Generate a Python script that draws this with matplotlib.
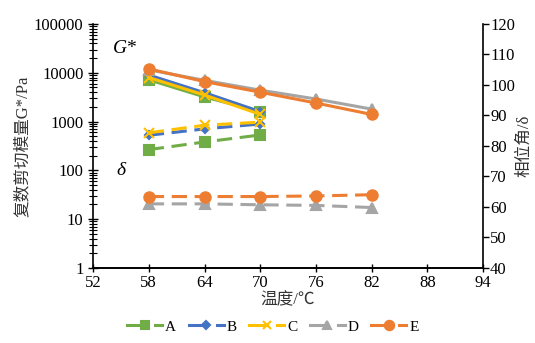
import matplotlib
matplotlib.use("Agg")
import matplotlib.pyplot as plt
from matplotlib.lines import Line2D
from matplotlib.legend_handler import HandlerBase
from matplotlib.ticker import FixedLocator, LogLocator, NullFormatter

# ---- data ----
temps_short = [58, 64, 70]
temps_long = [58, 64, 70, 76, 82]
series = ["A", "B", "C", "D", "E"]

gstar_A = [7200, 3200, 1600]
gstar_B = [9000, 3900, 1600]
gstar_C = [8000, 3500, 1400]
gstar_D = [11500, 7000, 4400, 2900, 1800]
gstar_E = [12000, 6600, 4000, 2400, 1400]

delta_A = [78.8, 81.3, 83.6]
delta_B = [83.5, 85.6, 87.2]
delta_C = [84.3, 86.8, 87.8]
delta_D = [61.0, 61.0, 60.7, 60.5, 59.8]
delta_E = [63.4, 63.4, 63.4, 63.6, 64.0]

x_ticks = [52, 58, 64, 70, 76, 82, 88, 94]
y_left_ticks = [1, 10, 100, 1000, 10000, 100000]
y_right_ticks = [40, 50, 60, 70, 80, 90, 100, 110, 120]

colors = {"A": "#70AD47", "B": "#4472C4", "C": "#FFC000", "D": "#A5A5A5", "E": "#ED7D31"}
markers = {"A": "s", "B": "D", "C": "x", "D": "^", "E": "o"}
msizes = {"A": 6.5, "B": 4.5, "C": 6.5, "D": 6.5, "E": 7.5}

gdata = {"A": (temps_short, gstar_A), "B": (temps_short, gstar_B), "C": (temps_short, gstar_C),
         "D": (temps_long, gstar_D), "E": (temps_long, gstar_E)}
ddata = {"A": (temps_short, delta_A), "B": (temps_short, delta_B), "C": (temps_short, delta_C),
         "D": (temps_long, delta_D), "E": (temps_long, delta_E)}

serif = ["Liberation Serif", "DejaVu Serif"]
cjk = ["Liberation Serif", "Noto Sans CJK SC"]
plt.rcParams['font.family'] = serif

fig = plt.figure(figsize=(5.35, 3.43), dpi=100)
ax = fig.add_axes([0.174, 0.219, 0.729, 0.711])
ax2 = ax.twinx()

for s in series:
    x, y = gdata[s]
    ax.plot(x, y, color=colors[s], lw=2.2, marker=markers[s], ms=msizes[s],
            mew=1.5, zorder=3)
for s in ["D", "E", "A", "B", "C"]:
    x, y = ddata[s]
    ax2.plot(x, y, color=colors[s], lw=2.2, marker=markers[s], ms=msizes[s],
             mew=1.5, dashes=(5, 2.5), zorder=3)

ax.set_yscale("log")
ax.set_ylim(1, 100000)
ax.set_xlim(52, 94)
ax.set_xticks(x_ticks)
ax.set_xticklabels([str(t) for t in x_ticks], fontsize=12)
ax.yaxis.set_major_locator(FixedLocator(y_left_ticks))
ax.set_yticklabels([str(t) for t in y_left_ticks], fontsize=12)
ax.yaxis.set_minor_locator(LogLocator(base=10, subs=range(2, 10), numticks=20))
ax.yaxis.set_minor_formatter(NullFormatter())
ax.tick_params(axis="y", which="major", direction="inout", length=7, width=1)
ax.tick_params(axis="y", which="minor", direction="inout", length=6, width=0.8)
ax.tick_params(axis="x", direction="inout", length=6, width=1, pad=2)

ax2.set_ylim(40, 120)
ax2.set_yticks(y_right_ticks)
ax2.set_yticklabels([str(t) for t in y_right_ticks], fontsize=12)
ax2.tick_params(axis="y", direction="out", length=4, width=1, pad=1)

for a in (ax, ax2):
    a.spines["top"].set_visible(False)
    for sp in ("left", "right", "bottom"):
        a.spines[sp].set_linewidth(1.2)
ax2.spines["left"].set_visible(False)
ax.spines["right"].set_visible(False)

ax.set_ylabel("复数剪切模量G*/Pa", family=cjk, fontsize=12, color="#333333", labelpad=2)
ax2.set_ylabel("相位角/δ", family=cjk, fontsize=12, color="#333333", labelpad=1)
ax.set_xlabel("温度/℃", family=cjk, fontsize=12, color="#333333", labelpad=1)

ax.text(0.05, 0.90, "G*", transform=ax.transAxes, fontsize=14, style="italic",
        family=serif, ha="left", va="center",
        bbox=dict(facecolor="white", edgecolor="none", pad=2))
ax.text(0.06, 0.40, "δ", transform=ax.transAxes, fontsize=14, style="italic",
        family=serif, ha="left", va="center",
        bbox=dict(facecolor="white", edgecolor="none", pad=2))


class SolidDashHandler(HandlerBase):
    def __init__(self, color, marker, ms):
        super().__init__()
        self.color, self.marker, self.ms = color, marker, ms

    def create_artists(self, legend, orig_handle, xdescent, ydescent, width,
                       height, fontsize, trans):
        y = height / 2 - ydescent
        x0 = -xdescent
        solid = Line2D([x0, x0 + 0.5 * width], [y, y], color=self.color, lw=2.2,
                       transform=trans)
        mk = Line2D([x0 + 0.5 * width], [y], color=self.color, marker=self.marker,
                    ms=self.ms * 0.9, mew=1.5, lw=0, transform=trans)
        dash = Line2D([x0 + 0.8 * width, x0 + width], [y, y], color=self.color,
                      lw=2.2, transform=trans)
        return [solid, mk, dash]


handles = [Line2D([], [], color=colors[s]) for s in series]
hmap = {h: SolidDashHandler(colors[s], markers[s], msizes[s]) for h, s in zip(handles, series)}
fig.legend(handles, series, loc="center", bbox_to_anchor=(0.51, 0.047), ncol=5,
           frameon=False, fontsize=11, handlelength=2.3, columnspacing=0.8,
           handletextpad=0.2, handler_map=hmap)

fig.savefig("out.png", dpi=100, facecolor="white")
